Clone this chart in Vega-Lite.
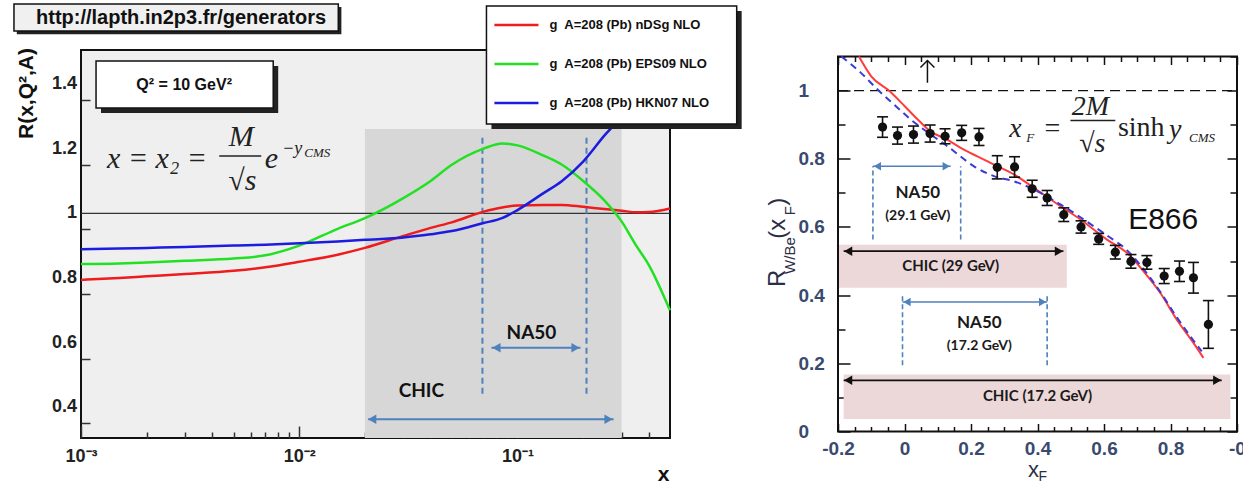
{
  "$schema": "https://vega.github.io/schema/vega-lite/v6.json",
  "background": "white",
  "padding": {"left": 12, "top": 2, "right": 5, "bottom": 5},
  "spacing": 168,
  "bounds": "flush",
  "center": true,
  "config": {"axis": {"grid": false, "domain": false}},
  "datasets": {
    "lshade": [{"x1": 0.02, "x2": 0.3, "y1": 0.305, "y2": 1.261}],
    "lone": [{"y": 1}],
    "lvdash": [{"x": 0.0691, "y1": 0.442, "y2": 1.245}, {"x": 0.2072, "y1": 0.442, "y2": 1.245}],
    "larrow": [{"x1": 0.0207, "x2": 0.2757, "y": 0.363}, {"x1": 0.076, "x2": 0.1945, "y": 0.584}],
    "lheads": [{"x": 0.0216, "y": 0.363, "dir": "left"}, {"x": 0.2615, "y": 0.363, "dir": "right"}, {"x": 0.0801, "y": 0.584, "dir": "left"}, {"x": 0.1845, "y": 0.584, "dir": "right"}],
    "lcurves": [
      {"s": "nDSg", "x": 0.001, "r": 0.794}, {"s": "nDSg", "x": 0.0015, "r": 0.8}, {"s": "nDSg", "x": 0.002, "r": 0.805}, {"s": "nDSg", "x": 0.003, "r": 0.812}, {"s": "nDSg", "x": 0.005, "r": 0.822}, {"s": "nDSg", "x": 0.007, "r": 0.833}, {"s": "nDSg", "x": 0.01, "r": 0.85}, {"s": "nDSg", "x": 0.015, "r": 0.872}, {"s": "nDSg", "x": 0.02, "r": 0.893}, {"s": "nDSg", "x": 0.03, "r": 0.93}, {"s": "nDSg", "x": 0.04, "r": 0.955}, {"s": "nDSg", "x": 0.05, "r": 0.972}, {"s": "nDSg", "x": 0.07, "r": 1.005}, {"s": "nDSg", "x": 0.085, "r": 1.018}, {"s": "nDSg", "x": 0.1, "r": 1.024}, {"s": "nDSg", "x": 0.13, "r": 1.026}, {"s": "nDSg", "x": 0.16, "r": 1.026}, {"s": "nDSg", "x": 0.2, "r": 1.02}, {"s": "nDSg", "x": 0.25, "r": 1.013}, {"s": "nDSg", "x": 0.3, "r": 1.008}, {"s": "nDSg", "x": 0.35, "r": 1.003}, {"s": "nDSg", "x": 0.4, "r": 1.004}, {"s": "nDSg", "x": 0.5, "r": 1.015},
      {"s": "EPS09", "x": 0.001, "r": 0.843}, {"s": "EPS09", "x": 0.0015, "r": 0.845}, {"s": "EPS09", "x": 0.002, "r": 0.848}, {"s": "EPS09", "x": 0.003, "r": 0.853}, {"s": "EPS09", "x": 0.005, "r": 0.86}, {"s": "EPS09", "x": 0.007, "r": 0.87}, {"s": "EPS09", "x": 0.01, "r": 0.9}, {"s": "EPS09", "x": 0.015, "r": 0.952}, {"s": "EPS09", "x": 0.02, "r": 0.985}, {"s": "EPS09", "x": 0.03, "r": 1.047}, {"s": "EPS09", "x": 0.04, "r": 1.1}, {"s": "EPS09", "x": 0.05, "r": 1.15}, {"s": "EPS09", "x": 0.07, "r": 1.2}, {"s": "EPS09", "x": 0.085, "r": 1.216}, {"s": "EPS09", "x": 0.1, "r": 1.21}, {"s": "EPS09", "x": 0.13, "r": 1.18}, {"s": "EPS09", "x": 0.16, "r": 1.15}, {"s": "EPS09", "x": 0.2, "r": 1.1}, {"s": "EPS09", "x": 0.25, "r": 1.04}, {"s": "EPS09", "x": 0.3, "r": 0.975}, {"s": "EPS09", "x": 0.35, "r": 0.9}, {"s": "EPS09", "x": 0.4, "r": 0.84}, {"s": "EPS09", "x": 0.5, "r": 0.7},
      {"s": "HKN07", "x": 0.001, "r": 0.889}, {"s": "HKN07", "x": 0.0015, "r": 0.891}, {"s": "HKN07", "x": 0.002, "r": 0.893}, {"s": "HKN07", "x": 0.003, "r": 0.896}, {"s": "HKN07", "x": 0.005, "r": 0.9}, {"s": "HKN07", "x": 0.007, "r": 0.903}, {"s": "HKN07", "x": 0.01, "r": 0.907}, {"s": "HKN07", "x": 0.015, "r": 0.913}, {"s": "HKN07", "x": 0.02, "r": 0.918}, {"s": "HKN07", "x": 0.03, "r": 0.925}, {"s": "HKN07", "x": 0.04, "r": 0.935}, {"s": "HKN07", "x": 0.05, "r": 0.945}, {"s": "HKN07", "x": 0.07, "r": 0.97}, {"s": "HKN07", "x": 0.085, "r": 0.985}, {"s": "HKN07", "x": 0.1, "r": 1.01}, {"s": "HKN07", "x": 0.13, "r": 1.06}, {"s": "HKN07", "x": 0.16, "r": 1.1}, {"s": "HKN07", "x": 0.2, "r": 1.16}, {"s": "HKN07", "x": 0.25, "r": 1.24}, {"s": "HKN07", "x": 0.3, "r": 1.3}, {"s": "HKN07", "x": 0.35, "r": 1.37}, {"s": "HKN07", "x": 0.4, "r": 1.44}, {"s": "HKN07", "x": 0.5, "r": 1.56}
    ],
    "lshadow": [
      {"x1": 0.000508, "x2": 0.0156, "y1": 1.554, "y2": 1.638},
      {"x1": 0.001235, "x2": 0.00801, "y1": 1.3103, "y2": 1.4555},
      {"x1": 0.076, "x2": 1.065, "y1": 1.2608, "y2": 1.6256}
    ],
    "ltitlebox": [{"x1": 0.000493, "x2": 0.0151, "y1": 1.564, "y2": 1.647}],
    "lboxes": [
      {"x1": 0.001172, "x2": 0.0076, "y1": 1.326, "y2": 1.471},
      {"x1": 0.0721, "x2": 1.0107, "y1": 1.276, "y2": 1.641}
    ],
    "llegline": [
      {"s": "nDSg", "x1": 0.0784, "x2": 0.1248, "y": 1.582},
      {"s": "EPS09", "x1": 0.0784, "x2": 0.1248, "y": 1.462},
      {"s": "HKN07", "x1": 0.0784, "x2": 0.1248, "y": 1.341}
    ],
    "llegtext": [
      {"t": "g\u00a0 A=208 (Pb) nDSg NLO", "x": 0.1403, "y": 1.582},
      {"t": "g\u00a0 A=208 (Pb) EPS09 NLO", "x": 0.1403, "y": 1.462},
      {"t": "g\u00a0 A=208 (Pb) HKN07 NLO", "x": 0.1403, "y": 1.341}
    ],
    "ltitle": [{"t": "http://lapth.in2p3.fr/generators", "x": 0.002874, "y": 1.604}],
    "lq": [{"t": "Q² = 10 GeV²", "x": 0.00297, "y": 1.397}],
    "lyticks": [{"v": 0.4}, {"v": 0.6}, {"v": 0.8}, {"v": 1.0}, {"v": 1.2}, {"v": 1.4}],
    "lformbig": [
      {"t": "x = x₂ =", "x": 0.002232, "y": 1.168},
      {"t": "M", "x": 0.00542, "y": 1.236},
      {"t": "√s", "x": 0.00548, "y": 1.1},
      {"t": "e", "x": 0.00745, "y": 1.168}
    ],
    "lformsup": [{"t": "−y", "x": 0.00929, "y": 1.199}],
    "lformsub": [{"t": "CMS", "x": 0.01209, "y": 1.187}],
    "lbar": [{"x1": 0.0043, "x2": 0.0067, "y": 1.177}],
    "llabels": [{"t": "CHIC", "x": 0.03627, "y": 0.451}, {"t": "NA50", "x": 0.1159, "y": 0.63}],

    "rpink": [{"x1": -0.197, "x2": 0.488, "y1": 0.422, "y2": 0.548}, {"x1": -0.183, "x2": 0.98, "y1": 0.037, "y2": 0.167}],
    "rone": [{"x1": -0.2, "x2": 1.0, "y": 1}],
    "rred": [
      {"x": -0.137, "y": 1.1}, {"x": -0.1, "y": 1.042}, {"x": -0.047, "y": 1.0}, {"x": 0.0, "y": 0.955}, {"x": 0.04, "y": 0.915}, {"x": 0.077, "y": 0.881}, {"x": 0.129, "y": 0.856}, {"x": 0.169, "y": 0.832}, {"x": 0.219, "y": 0.807}, {"x": 0.269, "y": 0.783}, {"x": 0.329, "y": 0.754}, {"x": 0.389, "y": 0.715}, {"x": 0.469, "y": 0.661}, {"x": 0.529, "y": 0.622}, {"x": 0.609, "y": 0.563}, {"x": 0.669, "y": 0.524}, {"x": 0.719, "y": 0.47}, {"x": 0.769, "y": 0.407}, {"x": 0.819, "y": 0.328}, {"x": 0.869, "y": 0.26}, {"x": 0.899, "y": 0.216}
    ],
    "rblue": [
      {"x": -0.19, "y": 1.1}, {"x": -0.131, "y": 1.052}, {"x": -0.081, "y": 1.003}, {"x": -0.03, "y": 0.958}, {"x": 0.019, "y": 0.915}, {"x": 0.069, "y": 0.878}, {"x": 0.129, "y": 0.837}, {"x": 0.209, "y": 0.778}, {"x": 0.269, "y": 0.749}, {"x": 0.329, "y": 0.734}, {"x": 0.389, "y": 0.71}, {"x": 0.469, "y": 0.666}, {"x": 0.569, "y": 0.602}, {"x": 0.609, "y": 0.575}, {"x": 0.669, "y": 0.532}, {"x": 0.719, "y": 0.476}, {"x": 0.769, "y": 0.41}, {"x": 0.819, "y": 0.335}, {"x": 0.869, "y": 0.267}, {"x": 0.894, "y": 0.235}
    ],
    "rpts": [
      {"x": -0.066, "r": 0.893, "lo": 0.863, "hi": 0.923}, {"x": -0.021, "r": 0.868, "lo": 0.843, "hi": 0.893}, {"x": 0.027, "r": 0.871, "lo": 0.846, "hi": 0.896}, {"x": 0.077, "r": 0.874, "lo": 0.849, "hi": 0.899}, {"x": 0.122, "r": 0.866, "lo": 0.844, "hi": 0.888}, {"x": 0.172, "r": 0.876, "lo": 0.854, "hi": 0.898}, {"x": 0.224, "r": 0.864, "lo": 0.839, "hi": 0.889},
      {"x": 0.279, "r": 0.775, "lo": 0.741, "hi": 0.809}, {"x": 0.331, "r": 0.776, "lo": 0.746, "hi": 0.806}, {"x": 0.384, "r": 0.712, "lo": 0.687, "hi": 0.737}, {"x": 0.429, "r": 0.685, "lo": 0.663, "hi": 0.707}, {"x": 0.479, "r": 0.636, "lo": 0.616, "hi": 0.656}, {"x": 0.531, "r": 0.6, "lo": 0.582, "hi": 0.618}, {"x": 0.584, "r": 0.565, "lo": 0.549, "hi": 0.581},
      {"x": 0.634, "r": 0.526, "lo": 0.506, "hi": 0.546}, {"x": 0.681, "r": 0.499, "lo": 0.479, "hi": 0.519}, {"x": 0.729, "r": 0.496, "lo": 0.476, "hi": 0.516}, {"x": 0.781, "r": 0.456, "lo": 0.434, "hi": 0.478}, {"x": 0.827, "r": 0.47, "lo": 0.44, "hi": 0.5}, {"x": 0.869, "r": 0.451, "lo": 0.406, "hi": 0.496}, {"x": 0.914, "r": 0.314, "lo": 0.244, "hi": 0.384}
    ],
    "rvdash": [{"x": -0.095, "y1": 0.563, "y2": 0.778}, {"x": 0.169, "y1": 0.563, "y2": 0.778}, {"x": -0.006, "y1": 0.194, "y2": 0.402}, {"x": 0.429, "y1": 0.194, "y2": 0.402}],
    "rbluearrow": [{"x1": -0.095, "x2": 0.139, "y": 0.778}, {"x1": -0.006, "x2": 0.429, "y": 0.38}],
    "rblueheads": [{"x": -0.0815, "y": 0.778, "dir": "left"}, {"x": 0.1255, "y": 0.778, "dir": "right"}, {"x": 0.0075, "y": 0.38, "dir": "left"}, {"x": 0.4155, "y": 0.38, "dir": "right"}],
    "rblackarrow": [{"x1": -0.183, "x2": 0.478, "y": 0.529}, {"x1": -0.183, "x2": 0.954, "y": 0.15}],
    "rblackheads": [{"x": -0.1695, "y": 0.529, "dir": "left"}, {"x": 0.4645, "y": 0.529, "dir": "right"}, {"x": -0.1695, "y": 0.15, "dir": "left"}, {"x": 0.9405, "y": 0.15, "dir": "right"}],
    "rna50": [{"t": "NA50", "x": 0.04, "y": 0.7}, {"t": "NA50", "x": 0.225, "y": 0.319}],
    "rgev": [{"t": "(29.1 GeV)", "x": 0.04, "y": 0.631}, {"t": "(17.2 GeV)", "x": 0.225, "y": 0.25}],
    "rchic": [{"t": "CHIC (29 GeV)", "x": 0.139, "y": 0.485}, {"t": "CHIC (17.2 GeV)", "x": 0.4, "y": 0.104}],
    "re866": [{"t": "E866", "x": 0.778, "y": 0.62}],
    "rup": [{"x": 0.069, "y1": 1.023, "y2": 1.088}],
    "rformit": [{"t": "x", "x": 0.334, "y": 0.886}, {"t": "2M", "x": 0.559, "y": 0.953}, {"t": "√s", "x": 0.565, "y": 0.842}, {"t": "y", "x": 0.814, "y": 0.883}],
    "rformup": [{"t": "=", "x": 0.445, "y": 0.886}, {"t": "sinh", "x": 0.712, "y": 0.891}],
    "rformsub": [{"t": "F", "x": 0.378, "y": 0.862}, {"t": "CMS", "x": 0.895, "y": 0.862}],
    "rbar": [{"x1": 0.499, "x2": 0.634, "y": 0.912}],
    "rytbig": [{"t": "R", "x": -0.38, "y": 0.449}, {"t": "(x", "x": -0.38, "y": 0.595}, {"t": ")", "x": -0.38, "y": 0.674}],
    "rytsub": [{"t": "W/Be", "x": -0.344, "y": 0.516}, {"t": "F", "x": -0.344, "y": 0.648}],
    "rxtbig": [{"t": "x", "x": 0.388, "y": -0.114}],
    "rxtsub": [{"t": "F", "x": 0.416, "y": -0.132}]
  },
  "hconcat": [
    {
      "width": 589,
      "height": 388,
      "view": {"fill": "#efefef", "stroke": "#111111", "strokeWidth": 2},
      "layer": [
        {
          "data": {"name": "lshade"},
          "mark": {"type": "rect", "fill": "#d7d7d7"},
          "encoding": {
            "x": {"field": "x1", "type": "quantitative",
              "scale": {"type": "log", "domain": [0.001, 0.5], "nice": false},
              "axis": {
                "title": "x", "titleFont": "Liberation Sans", "titleFontSize": 21, "titleFontWeight": "bold", "titleColor": "#111111",
                "titleX": 582, "titleY": 36, "titleAlign": "center", "titleBaseline": "middle", "titleAnchor": "start",
                "values": [0.001, 0.002, 0.003, 0.004, 0.005, 0.006, 0.007, 0.008, 0.009, 0.01, 0.02, 0.03, 0.04, 0.05, 0.06, 0.07, 0.08, 0.09, 0.1, 0.2, 0.3, 0.4],
                "labelExpr": "abs(log(datum.value)/LN10 - round(log(datum.value)/LN10)) < 0.01 ? '10' + (round(log(datum.value)/LN10) == -3 ? '⁻³' : round(log(datum.value)/LN10) == -2 ? '⁻²' : '⁻¹') : ''",
                "labelFont": "Liberation Sans", "labelFontWeight": "bold", "labelFontSize": 18, "labelColor": "#222222",
                "labelPadding": 21, "labelFlush": false, "labelOverlap": false, "labelBound": false,
                "domain": false, "grid": false, "tickColor": "#333333", "tickWidth": 1.5,
                "tickSize": {"condition": {"test": "abs(log(datum.value)/LN10 - round(log(datum.value)/LN10)) < 0.01", "value": -12}, "value": -6}
              }},
            "x2": {"field": "x2"},
            "y": {"field": "y1", "type": "quantitative",
              "scale": {"domain": [0.305, 1.505], "nice": false, "zero": false},
              "axis": {
                "title": "R(x,Q²,A)", "titleFont": "Liberation Sans", "titleFontSize": 21, "titleFontWeight": "bold", "titleColor": "#111111",
                "titleX": -55, "titleY": 43, "titleAngle": 270, "titleAlign": "center", "titleBaseline": "middle", "titleAnchor": "start",
                "values": [0.35, 0.4, 0.45, 0.5, 0.55, 0.6, 0.65, 0.7, 0.75, 0.8, 0.85, 0.9, 0.95, 1, 1.05, 1.1, 1.15, 1.2, 1.25, 1.3, 1.35, 1.4, 1.45, 1.5],
                "labels": false,
                "domain": false, "grid": false, "tickColor": "#333333", "tickWidth": 1.5,
                "tickSize": {"condition": {"test": "abs(datum.value*5 - round(datum.value*5)) < 0.001", "value": -18}, "value": -9}
              }},
            "y2": {"field": "y2"}
          }
        },
        {
          "data": {"name": "lyticks"},
          "mark": {"type": "text", "align": "right", "baseline": "middle", "font": "Liberation Sans", "fontWeight": "bold", "fontSize": 18, "color": "#222222"},
          "encoding": {
            "x": {"datum": 0.000958, "type": "quantitative"},
            "y": {"field": "v", "type": "quantitative"},
            "text": {"field": "v", "type": "quantitative", "format": "~g"}
          }
        },
        {
          "data": {"name": "lone"},
          "mark": {"type": "rule", "color": "#333333", "strokeWidth": 1.2},
          "encoding": {"y": {"field": "y", "type": "quantitative"}}
        },
        {
          "data": {"name": "lvdash"},
          "mark": {"type": "rule", "color": "#4f81bd", "strokeWidth": 2, "strokeDash": [6, 4]},
          "encoding": {"x": {"field": "x", "type": "quantitative"}, "y": {"field": "y1", "type": "quantitative"}, "y2": {"field": "y2"}}
        },
        {
          "data": {"name": "larrow"},
          "mark": {"type": "rule", "color": "#4f81bd", "strokeWidth": 2},
          "encoding": {"x": {"field": "x1", "type": "quantitative"}, "x2": {"field": "x2"}, "y": {"field": "y", "type": "quantitative"}}
        },
        {
          "data": {"name": "lheads"},
          "mark": {"type": "point", "filled": true, "size": 90, "color": "#4f81bd", "opacity": 1},
          "encoding": {"x": {"field": "x", "type": "quantitative"}, "y": {"field": "y", "type": "quantitative"},
            "shape": {"field": "dir", "type": "nominal", "scale": {"domain": ["left", "right"], "range": ["triangle-left", "triangle-right"]}, "legend": null}}
        },
        {
          "data": {"name": "lcurves"},
          "mark": {"type": "line", "strokeWidth": 2.5, "interpolate": "monotone"},
          "encoding": {"x": {"field": "x", "type": "quantitative"}, "y": {"field": "r", "type": "quantitative"},
            "color": {"field": "s", "type": "nominal", "scale": {"domain": ["nDSg", "EPS09", "HKN07"], "range": ["#ee1c1c", "#22e022", "#1c1ce0"]}, "legend": null}}
        },
        {
          "data": {"name": "lshadow"},
          "mark": {"type": "rect", "fill": "#222222"},
          "encoding": {"x": {"field": "x1", "type": "quantitative"}, "x2": {"field": "x2"}, "y": {"field": "y1", "type": "quantitative"}, "y2": {"field": "y2"}}
        },
        {
          "data": {"name": "ltitlebox"},
          "mark": {"type": "rect", "fill": "#f0f0f0", "stroke": "#111111", "strokeWidth": 1.5},
          "encoding": {"x": {"field": "x1", "type": "quantitative"}, "x2": {"field": "x2"}, "y": {"field": "y1", "type": "quantitative"}, "y2": {"field": "y2"}}
        },
        {
          "data": {"name": "lboxes"},
          "mark": {"type": "rect", "fill": "white", "stroke": "#111111", "strokeWidth": 1.5},
          "encoding": {"x": {"field": "x1", "type": "quantitative"}, "x2": {"field": "x2"}, "y": {"field": "y1", "type": "quantitative"}, "y2": {"field": "y2"}}
        },
        {
          "data": {"name": "llegline"},
          "mark": {"type": "rule", "strokeWidth": 2.5},
          "encoding": {"x": {"field": "x1", "type": "quantitative"}, "x2": {"field": "x2"}, "y": {"field": "y", "type": "quantitative"},
            "color": {"field": "s", "type": "nominal", "legend": null}}
        },
        {
          "data": {"name": "llegtext"},
          "mark": {"type": "text", "align": "left", "baseline": "middle", "font": "Liberation Sans", "fontWeight": "bold", "fontSize": 13, "color": "#111111"},
          "encoding": {"x": {"field": "x", "type": "quantitative"}, "y": {"field": "y", "type": "quantitative"}, "text": {"field": "t"}}
        },
        {
          "data": {"name": "ltitle"},
          "mark": {"type": "text", "align": "center", "baseline": "middle", "font": "Liberation Sans", "fontWeight": "bold", "fontSize": 20, "color": "#111111"},
          "encoding": {"x": {"field": "x", "type": "quantitative"}, "y": {"field": "y", "type": "quantitative"}, "text": {"field": "t"}}
        },
        {
          "data": {"name": "lq"},
          "mark": {"type": "text", "align": "center", "baseline": "middle", "font": "Liberation Sans", "fontWeight": "bold", "fontSize": 16, "color": "#111111"},
          "encoding": {"x": {"field": "x", "type": "quantitative"}, "y": {"field": "y", "type": "quantitative"}, "text": {"field": "t"}}
        },
        {
          "data": {"name": "lformbig"},
          "mark": {"type": "text", "align": "center", "baseline": "middle", "font": "Liberation Serif", "fontStyle": "italic", "fontSize": 30, "color": "#222222"},
          "encoding": {"x": {"field": "x", "type": "quantitative"}, "y": {"field": "y", "type": "quantitative"}, "text": {"field": "t"}}
        },
        {
          "data": {"name": "lformsup"},
          "mark": {"type": "text", "align": "center", "baseline": "middle", "font": "Liberation Serif", "fontStyle": "italic", "fontSize": 18, "color": "#222222"},
          "encoding": {"x": {"field": "x", "type": "quantitative"}, "y": {"field": "y", "type": "quantitative"}, "text": {"field": "t"}}
        },
        {
          "data": {"name": "lformsub"},
          "mark": {"type": "text", "align": "center", "baseline": "middle", "font": "Liberation Serif", "fontStyle": "italic", "fontSize": 13, "color": "#222222"},
          "encoding": {"x": {"field": "x", "type": "quantitative"}, "y": {"field": "y", "type": "quantitative"}, "text": {"field": "t"}}
        },
        {
          "data": {"name": "lbar"},
          "mark": {"type": "rule", "color": "#222222", "strokeWidth": 1.5},
          "encoding": {"x": {"field": "x1", "type": "quantitative"}, "x2": {"field": "x2"}, "y": {"field": "y", "type": "quantitative"}}
        },
        {
          "data": {"name": "llabels"},
          "mark": {"type": "text", "align": "center", "baseline": "middle", "font": "Lato", "fontWeight": "bold", "fontSize": 19, "color": "#111111"},
          "encoding": {"x": {"field": "x", "type": "quantitative"}, "y": {"field": "y", "type": "quantitative"}, "text": {"field": "t"}}
        }
      ]
    },
    {
      "width": 399,
      "height": 375,
      "view": {"fill": "white", "stroke": "#111111", "strokeWidth": 2},
      "resolve": {"axis": {"x": "independent", "y": "independent"}},
      "layer": [
        {
          "data": {"name": "rpink"},
          "mark": {"type": "rect", "fill": "#ecd8d8"},
          "encoding": {
            "x": {"field": "x1", "type": "quantitative",
              "scale": {"domain": [-0.2, 1.0], "nice": false, "zero": false},
              "axis": {
                "orient": "bottom", "title": null,
                "values": [-0.2, -0.15, -0.1, -0.05, 0, 0.05, 0.1, 0.15, 0.2, 0.25, 0.3, 0.35, 0.4, 0.45, 0.5, 0.55, 0.6, 0.65, 0.7, 0.75, 0.8, 0.85, 0.9, 0.95, 1.0],
                "labelExpr": "abs(datum.value*5 - round(datum.value*5)) < 0.001 ? (datum.value > 0.99 ? '-0' : (abs(datum.value) < 0.001 ? '0' : replace(format(datum.value, '.1f'), '−', '-'))) : ''",
                "labelFont": "Liberation Sans", "labelFontWeight": "bold", "labelFontSize": 19, "labelColor": "#3a4a6e",
                "labelPadding": 16, "labelFlush": false, "labelOverlap": false, "labelBound": false,
                "domain": false, "grid": false, "tickColor": "#111111", "tickWidth": 1.5,
                "tickSize": {"condition": {"test": "abs(datum.value*5 - round(datum.value*5)) < 0.001", "value": -8}, "value": -5}
              }},
            "x2": {"field": "x2"},
            "y": {"field": "y1", "type": "quantitative",
              "scale": {"domain": [0, 1.1], "nice": false, "zero": false},
              "axis": {
                "orient": "left", "title": null,
                "values": [0, 0.1, 0.2, 0.3, 0.4, 0.5, 0.6, 0.7, 0.8, 0.9, 1.0, 1.1],
                "labelExpr": "abs(datum.value*5 - round(datum.value*5)) < 0.001 ? (abs(datum.value - 1) < 0.001 ? '1' : (abs(datum.value) < 0.001 ? '0' : format(datum.value, '.1f'))) : ''",
                "labelFont": "Liberation Sans", "labelFontWeight": "bold", "labelFontSize": 19, "labelColor": "#3a4a6e",
                "labelAlign": "left", "labelPadding": 52, "labelFlush": false, "labelOverlap": false, "labelBound": false,
                "domain": false, "grid": false, "tickColor": "#111111", "tickWidth": 1.5,
                "tickSize": {"condition": {"test": "abs(datum.value*5 - round(datum.value*5)) < 0.001", "value": -12}, "value": -7}
              }},
            "y2": {"field": "y2"}
          }
        },
        {
          "data": {"name": "rone"},
          "mark": {"type": "rule", "color": "#111111", "strokeWidth": 1.3, "strokeDash": [10, 6]},
          "encoding": {
            "x": {"field": "x1", "type": "quantitative",
              "axis": {"orient": "top", "title": null, "labels": false, "domain": false, "grid": false,
                "values": [-0.2, -0.15, -0.1, -0.05, 0, 0.05, 0.1, 0.15, 0.2, 0.25, 0.3, 0.35, 0.4, 0.45, 0.5, 0.55, 0.6, 0.65, 0.7, 0.75, 0.8, 0.85, 0.9, 0.95, 1.0],
                "tickColor": "#111111", "tickWidth": 1.5,
                "tickSize": {"condition": {"test": "abs(datum.value*5 - round(datum.value*5)) < 0.001", "value": -8}, "value": -5}}},
            "x2": {"field": "x2"},
            "y": {"field": "y", "type": "quantitative",
              "axis": {"orient": "right", "title": null, "labels": false, "domain": false, "grid": false,
                "values": [0, 0.1, 0.2, 0.3, 0.4, 0.5, 0.6, 0.7, 0.8, 0.9, 1.0, 1.1],
                "tickColor": "#111111", "tickWidth": 1.5,
                "tickSize": {"condition": {"test": "abs(datum.value*5 - round(datum.value*5)) < 0.001", "value": -10}, "value": -7}}}
          }
        },
        {
          "data": {"name": "rvdash"},
          "mark": {"type": "rule", "color": "#4f81bd", "strokeWidth": 1.6, "strokeDash": [5, 3]},
          "encoding": {"x": {"field": "x", "type": "quantitative", "axis": null}, "y": {"field": "y1", "type": "quantitative", "axis": null}, "y2": {"field": "y2"}}
        },
        {
          "data": {"name": "rbluearrow"},
          "mark": {"type": "rule", "color": "#4f81bd", "strokeWidth": 1.6},
          "encoding": {"x": {"field": "x1", "type": "quantitative", "axis": null}, "x2": {"field": "x2"}, "y": {"field": "y", "type": "quantitative", "axis": null}}
        },
        {
          "data": {"name": "rblueheads"},
          "mark": {"type": "point", "filled": true, "size": 70, "color": "#4f81bd", "opacity": 1},
          "encoding": {"x": {"field": "x", "type": "quantitative", "axis": null}, "y": {"field": "y", "type": "quantitative", "axis": null},
            "shape": {"field": "dir", "type": "nominal", "scale": {"domain": ["left", "right"], "range": ["triangle-left", "triangle-right"]}, "legend": null}}
        },
        {
          "data": {"name": "rblackarrow"},
          "mark": {"type": "rule", "color": "#111111", "strokeWidth": 1.6},
          "encoding": {"x": {"field": "x1", "type": "quantitative", "axis": null}, "x2": {"field": "x2"}, "y": {"field": "y", "type": "quantitative", "axis": null}}
        },
        {
          "data": {"name": "rblackheads"},
          "mark": {"type": "point", "filled": true, "size": 90, "color": "#111111", "opacity": 1},
          "encoding": {"x": {"field": "x", "type": "quantitative", "axis": null}, "y": {"field": "y", "type": "quantitative", "axis": null},
            "shape": {"field": "dir", "type": "nominal", "legend": null}}
        },
        {
          "data": {"name": "rred"},
          "mark": {"type": "line", "color": "#ff3b3b", "strokeWidth": 2, "interpolate": "monotone"},
          "encoding": {"x": {"field": "x", "type": "quantitative", "axis": null}, "y": {"field": "y", "type": "quantitative", "axis": null}}
        },
        {
          "data": {"name": "rblue"},
          "mark": {"type": "line", "color": "#3a3ad8", "strokeWidth": 2, "strokeDash": [7, 5], "interpolate": "monotone"},
          "encoding": {"x": {"field": "x", "type": "quantitative", "axis": null}, "y": {"field": "y", "type": "quantitative", "axis": null}}
        },
        {
          "data": {"name": "rpts"},
          "mark": {"type": "rule", "color": "#111111", "strokeWidth": 1.6},
          "encoding": {"x": {"field": "x", "type": "quantitative", "axis": null}, "y": {"field": "lo", "type": "quantitative", "axis": null}, "y2": {"field": "hi"}}
        },
        {
          "data": {"name": "rpts"},
          "mark": {"type": "point", "shape": "stroke", "filled": false, "size": 121, "color": "#111111", "strokeWidth": 1.6, "opacity": 1},
          "encoding": {"x": {"field": "x", "type": "quantitative", "axis": null}, "y": {"field": "lo", "type": "quantitative", "axis": null}}
        },
        {
          "data": {"name": "rpts"},
          "mark": {"type": "point", "shape": "stroke", "filled": false, "size": 121, "color": "#111111", "strokeWidth": 1.6, "opacity": 1},
          "encoding": {"x": {"field": "x", "type": "quantitative", "axis": null}, "y": {"field": "hi", "type": "quantitative", "axis": null}}
        },
        {
          "data": {"name": "rpts"},
          "mark": {"type": "point", "shape": "circle", "filled": true, "size": 85, "color": "#111111", "opacity": 1},
          "encoding": {"x": {"field": "x", "type": "quantitative", "axis": null}, "y": {"field": "r", "type": "quantitative", "axis": null}}
        },
        {
          "data": {"name": "rup"},
          "mark": {"type": "rule", "color": "#111111", "strokeWidth": 1.5},
          "encoding": {"x": {"field": "x", "type": "quantitative", "axis": null}, "y": {"field": "y1", "type": "quantitative", "axis": null}, "y2": {"field": "y2"}}
        },
        {
          "data": {"name": "rup"},
          "mark": {"type": "point", "shape": "M-1,1L0,0L1,1", "filled": false, "size": 196, "color": "#111111", "strokeWidth": 1.5, "opacity": 1},
          "encoding": {"x": {"field": "x", "type": "quantitative", "axis": null}, "y": {"field": "y2", "type": "quantitative", "axis": null}}
        },
        {
          "data": {"name": "rna50"},
          "mark": {"type": "text", "align": "center", "baseline": "middle", "font": "Lato", "fontWeight": "bold", "fontSize": 17, "color": "#1a1a1a"},
          "encoding": {"x": {"field": "x", "type": "quantitative", "axis": null}, "y": {"field": "y", "type": "quantitative", "axis": null}, "text": {"field": "t"}}
        },
        {
          "data": {"name": "rgev"},
          "mark": {"type": "text", "align": "center", "baseline": "middle", "font": "Lato", "fontWeight": "bold", "fontSize": 14, "color": "#1a1a1a"},
          "encoding": {"x": {"field": "x", "type": "quantitative", "axis": null}, "y": {"field": "y", "type": "quantitative", "axis": null}, "text": {"field": "t"}}
        },
        {
          "data": {"name": "rchic"},
          "mark": {"type": "text", "align": "center", "baseline": "middle", "font": "Lato", "fontWeight": "bold", "fontSize": 15, "color": "#1a1a1a"},
          "encoding": {"x": {"field": "x", "type": "quantitative", "axis": null}, "y": {"field": "y", "type": "quantitative", "axis": null}, "text": {"field": "t"}}
        },
        {
          "data": {"name": "re866"},
          "mark": {"type": "text", "align": "center", "baseline": "middle", "font": "Liberation Sans", "fontSize": 30, "color": "#111111"},
          "encoding": {"x": {"field": "x", "type": "quantitative", "axis": null}, "y": {"field": "y", "type": "quantitative", "axis": null}, "text": {"field": "t"}}
        },
        {
          "data": {"name": "rformit"},
          "mark": {"type": "text", "align": "center", "baseline": "middle", "font": "Liberation Serif", "fontStyle": "italic", "fontSize": 28, "color": "#222222"},
          "encoding": {"x": {"field": "x", "type": "quantitative", "axis": null}, "y": {"field": "y", "type": "quantitative", "axis": null}, "text": {"field": "t"}}
        },
        {
          "data": {"name": "rformup"},
          "mark": {"type": "text", "align": "center", "baseline": "middle", "font": "Liberation Serif", "fontSize": 28, "color": "#222222"},
          "encoding": {"x": {"field": "x", "type": "quantitative", "axis": null}, "y": {"field": "y", "type": "quantitative", "axis": null}, "text": {"field": "t"}}
        },
        {
          "data": {"name": "rformsub"},
          "mark": {"type": "text", "align": "center", "baseline": "middle", "font": "Liberation Serif", "fontStyle": "italic", "fontSize": 13, "color": "#222222"},
          "encoding": {"x": {"field": "x", "type": "quantitative", "axis": null}, "y": {"field": "y", "type": "quantitative", "axis": null}, "text": {"field": "t"}}
        },
        {
          "data": {"name": "rbar"},
          "mark": {"type": "rule", "color": "#222222", "strokeWidth": 1.5},
          "encoding": {"x": {"field": "x1", "type": "quantitative", "axis": null}, "x2": {"field": "x2"}, "y": {"field": "y", "type": "quantitative", "axis": null}}
        },
        {
          "data": {"name": "rytbig"},
          "mark": {"type": "text", "align": "center", "baseline": "middle", "angle": 270, "font": "Liberation Sans", "fontSize": 24, "color": "#2a2f45"},
          "encoding": {"x": {"field": "x", "type": "quantitative", "axis": null}, "y": {"field": "y", "type": "quantitative", "axis": null}, "text": {"field": "t"}}
        },
        {
          "data": {"name": "rytsub"},
          "mark": {"type": "text", "align": "center", "baseline": "middle", "angle": 270, "font": "Liberation Sans", "fontSize": 15, "color": "#2a2f45"},
          "encoding": {"x": {"field": "x", "type": "quantitative", "axis": null}, "y": {"field": "y", "type": "quantitative", "axis": null}, "text": {"field": "t"}}
        },
        {
          "data": {"name": "rxtbig"},
          "mark": {"type": "text", "align": "center", "baseline": "middle", "font": "Liberation Sans", "fontSize": 22, "color": "#2a2f45"},
          "encoding": {"x": {"field": "x", "type": "quantitative", "axis": null}, "y": {"field": "y", "type": "quantitative", "axis": null}, "text": {"field": "t"}}
        },
        {
          "data": {"name": "rxtsub"},
          "mark": {"type": "text", "align": "center", "baseline": "middle", "font": "Liberation Sans", "fontSize": 14, "color": "#2a2f45"},
          "encoding": {"x": {"field": "x", "type": "quantitative", "axis": null}, "y": {"field": "y", "type": "quantitative", "axis": null}, "text": {"field": "t"}}
        }
      ]
    }
  ]
}
